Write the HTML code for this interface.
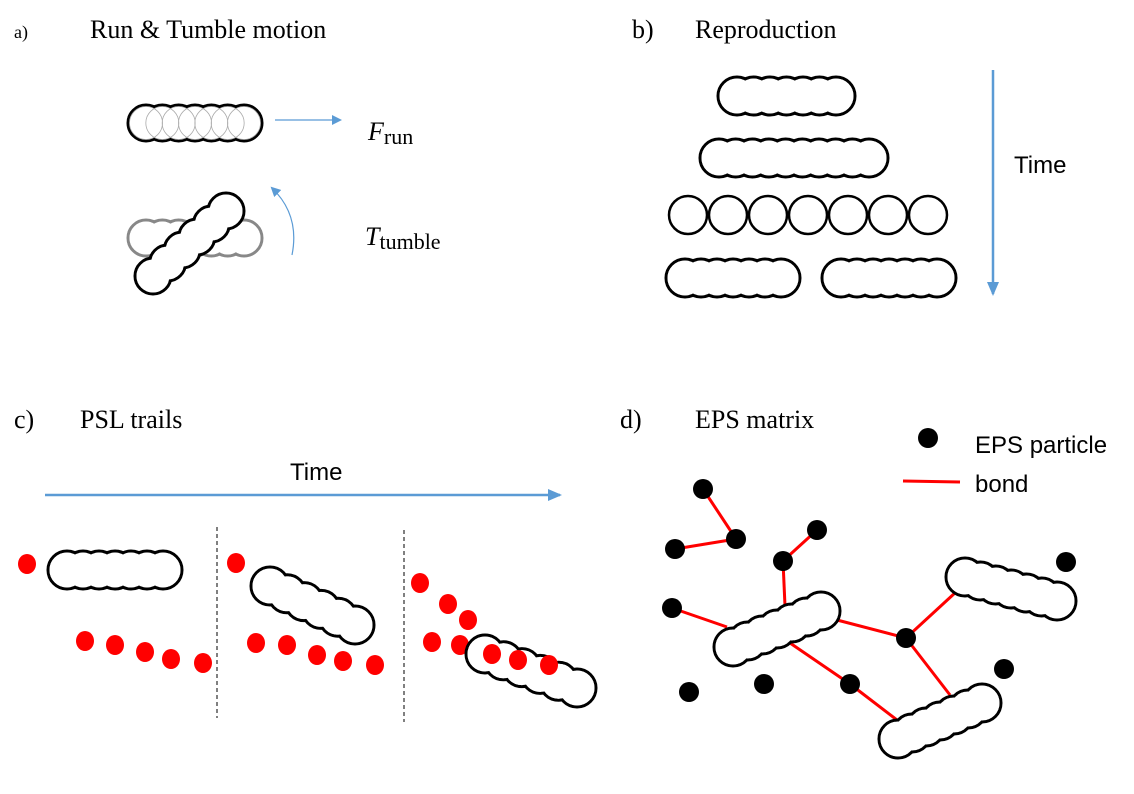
<!DOCTYPE html>
<html><head><meta charset="utf-8"><style>
html,body{margin:0;padding:0;background:#fff;}
svg{display:block}
.s{font-family:"Liberation Serif",serif;fill:#000}
.a{font-family:"Liberation Sans",sans-serif;fill:#000}
</style></head><body>
<svg id="sv" width="1134" height="794" viewBox="0 0 1134 794" xmlns="http://www.w3.org/2000/svg">
<defs>
<marker id="ah" markerWidth="10" markerHeight="10" refX="8" refY="5" orient="auto" markerUnits="userSpaceOnUse">
<path d="M0,0 L10,5 L0,10 z" fill="#5b9bd5"/></marker>
<marker id="ah2" markerWidth="14" markerHeight="14" refX="12" refY="7" orient="auto" markerUnits="userSpaceOnUse">
<path d="M0,1 L14,7 L0,13 z" fill="#5b9bd5"/></marker>
</defs>
<text class="s" x="14" y="38" font-size="18">a)</text>
<text class="s" x="90" y="38" font-size="26">Run &amp; Tumble motion</text>
<text class="s" x="632" y="38" font-size="26">b)</text>
<text class="s" x="695" y="38" font-size="26">Reproduction</text>
<text class="s" x="14" y="428" font-size="26">c)</text>
<text class="s" x="80" y="428" font-size="26">PSL trails</text>
<text class="s" x="620" y="428" font-size="26">d)</text>
<text class="s" x="695" y="428" font-size="26">EPS matrix</text>

<line x1="275" y1="120" x2="340" y2="120" stroke="#5b9bd5" stroke-width="1.2" marker-end="url(#ah)"/>
<path d="M292,255 Q300,215 272,188" fill="none" stroke="#5b9bd5" stroke-width="1.2" marker-end="url(#ah)"/>
<text class="s" x="368" y="140" font-size="26" font-style="italic">F<tspan font-style="normal" font-size="22" dy="4">run</tspan></text>
<text class="s" x="365" y="245" font-size="26" font-style="italic">T<tspan font-style="normal" font-size="22" dy="4">tumble</tspan></text>

<line x1="993" y1="70" x2="993" y2="294" stroke="#5b9bd5" stroke-width="2.5" marker-end="url(#ah2)"/>
<text class="a" x="1014" y="173" font-size="24">Time</text>

<line x1="45" y1="495" x2="560" y2="495" stroke="#5b9bd5" stroke-width="2.5" marker-end="url(#ah2)"/>
<text class="a" x="290" y="480" font-size="24">Time</text>
<line x1="217" y1="527" x2="217" y2="718" stroke="#000" stroke-width="1" stroke-dasharray="4,3"/>
<line x1="404" y1="530" x2="404" y2="722" stroke="#000" stroke-width="1" stroke-dasharray="4,3"/>

<circle cx="928" cy="438" r="10" fill="#000"/>
<text class="a" x="975" y="453" font-size="24">EPS particle</text>
<line x1="903" y1="481" x2="960" y2="482" stroke="red" stroke-width="3"/>
<text class="a" x="975" y="492" font-size="24">bond</text>
<g id="bonds" stroke="red" stroke-width="3"></g>
<g id="rods"></g>
<g id="dots"></g>
</svg>
<script>
var NS="http://www.w3.org/2000/svg";
function el(p,t,a){var e=document.createElementNS(NS,t);for(var k in a)e.setAttribute(k,a[k]);p.appendChild(e);return e;}
var R=document.getElementById('rods');
function rod(x1,y1,x2,y2,n,r,col,inner,par){
 var g=el(par||R,'g',{});var pts=[];
 for(var i=0;i<n;i++){var t=n>1?i/(n-1):0;pts.push([x1+(x2-x1)*t,y1+(y2-y1)*t]);}
 pts.forEach(function(p){el(g,'circle',{cx:p[0],cy:p[1],r:r,fill:'none',stroke:col,'stroke-width':3});});
 pts.forEach(function(p){el(g,'circle',{cx:p[0],cy:p[1],r:r-1.5,fill:'#fff'});});
 if(inner)pts.forEach(function(p){el(g,'circle',{cx:p[0],cy:p[1],r:r-1.5,fill:'none',stroke:inner,'stroke-width':0.8});});
}
rod(146,123,244,123,7,18,'#000','#aaa');
rod(146,238,244,238,7,18,'#888');
rod(153,276,226,211,6,18,'#000');
rod(737,96,836,96,7,19,'#000');
rod(719,158,869,158,10,19,'#000');
[688,728,768,808,848,888,928].forEach(function(x){el(R,'circle',{cx:x,cy:215,r:19,fill:'#fff',stroke:'#000','stroke-width':2.5});});
rod(685,278,781,278,7,19,'#000');
rod(841,278,937,278,7,19,'#000');
rod(67,570,163,570,7,19,'#000');
rod(270,586,355,625,6,19,'#000');
rod(733,647,821,611,7,19,'#000');
rod(965,577,1057,601,7,19,'#000');
rod(898,739,982,703,7,19,'#000');
var D=document.getElementById('dots');
[[27,564],[85,641],[115,645],[145,652],[171,659],[203,663],[236,563],[256,643],[287,645],[317,655],[343,661],[375,665],[420,583],[448,604],[468,620],[432,642],[460,645]].forEach(function(p){el(D,'ellipse',{cx:p[0],cy:p[1],rx:9,ry:10,fill:'red'});});
rod(485,654,577,688,6,19,'#000',null,D);
[[492,654],[518,660],[549,665]].forEach(function(p){el(D,'ellipse',{cx:p[0],cy:p[1],rx:9,ry:10,fill:'red'});});
[[703,489],[675,549],[736,539],[817,530],[783,561],[672,608],[906,638],[850,684],[1066,562],[1004,669],[689,692],[764,684]].forEach(function(p){el(D,'circle',{cx:p[0],cy:p[1],r:10,fill:'#000'});});
var B=document.getElementById('bonds');
[[703,489,736,539],[675,549,736,539],[817,530,783,561],[783,561,785,606],[672,608,727,627],[837,620,906,638],[906,638,956,592],[906,638,950,695],[790,643,850,684],[850,684,897,720]].forEach(function(l){el(B,'line',{x1:l[0],y1:l[1],x2:l[2],y2:l[3]});});
</script>
</body></html>
